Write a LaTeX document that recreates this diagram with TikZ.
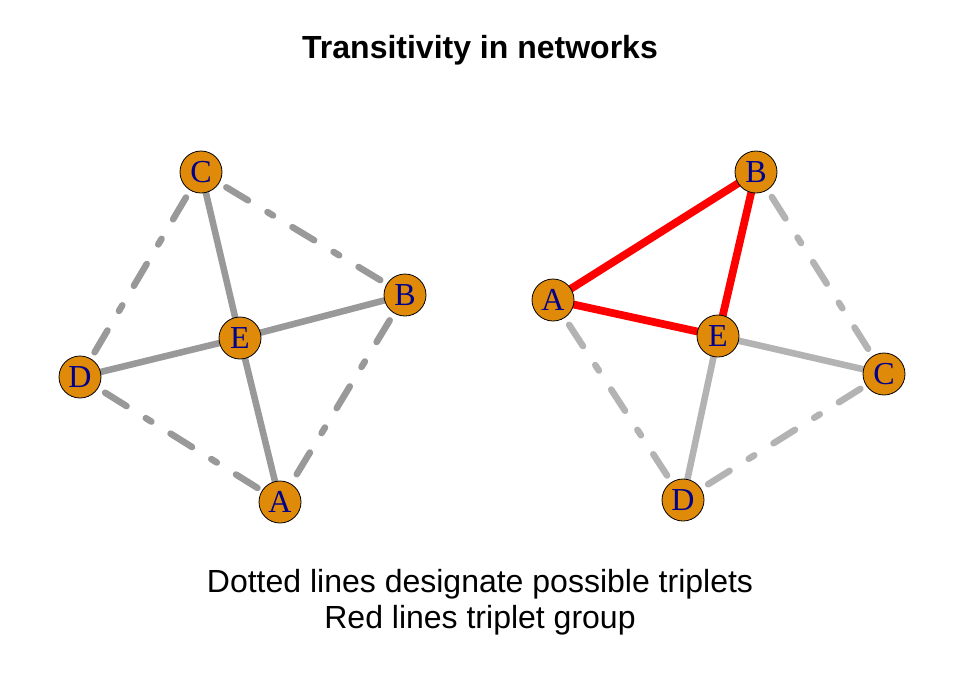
\documentclass[tikz,border=0pt]{standalone}
\usepackage{fontspec}
\setmainfont{Liberation Serif}
\newfontfamily\captionfont{Liberation Sans}
\usetikzlibrary{backgrounds}
\definecolor{vertexfill}{RGB}{224,138,10}
\definecolor{vertexlabel}{RGB}{0,0,139}
\definecolor{leftgray}{RGB}{153,153,153}
\definecolor{rightgray}{RGB}{179,179,179}
\tikzset{every picture/.style={line width=0.75pt}}

\begin{document}
\begin{tikzpicture}[x=0.75pt,y=0.75pt,yscale=-1,xscale=1,
  vertex/.style={circle, draw=black, line width=0.6pt, fill=vertexfill, text=vertexlabel,
    minimum size=31.5pt, inner sep=0pt, font=\fontsize{24}{24}\selectfont},
  tie/.style={line width=4.9pt, line cap=round},
  possible/.style={tie, dash pattern=on 4.9pt off 17pt on 19pt off 17pt, dash phase=15.75pt},
  triplet/.style={line width=5.8pt, line cap=round, color=red}]
%set diagram size 960 x 672
\useasboundingbox (0,0) rectangle (960,672);

% Text Node: title
\node[anchor=base, font=\captionfont\bfseries\fontsize{24}{24}\selectfont] (title) at (480,58) {Transitivity in networks};

%Left network
\node[vertex] (lC) at (201,172) {C};
\node[vertex] (lB) at (405,295) {B};
\node[vertex] (lE) at (240,338) {E};
\node[vertex] (lD) at (80,377) {D};
\node[vertex] (lA) at (280,502) {A};

%Right network
\node[vertex] (rB) at (756,172) {B};
\node[vertex] (rA) at (553,300) {A};
\node[vertex] (rE) at (718,336) {E};
\node[vertex] (rC) at (884,374) {C};
\node[vertex] (rD) at (683,500) {D};

\begin{pgfonlayer}{background}
\fill[white] (0,0) rectangle (960,672);
%Left edges
\draw[tie, leftgray] (lC) -- (lE);
\draw[tie, leftgray] (lD) -- (lE);
\draw[tie, leftgray] (lE) -- (lB);
\draw[tie, leftgray] (lE) -- (lA);
\draw[possible, leftgray] (lC) -- (lD);
\draw[possible, leftgray] (lC) -- (lB);
\draw[possible, leftgray] (lB) -- (lA);
\draw[possible, leftgray] (lD) -- (lA);
%Right edges
\draw[triplet] (rA) -- (rB);
\draw[triplet] (rB) -- (rE);
\draw[triplet] (rA) -- (rE);
\draw[tie, rightgray] (rE) -- (rC);
\draw[tie, rightgray] (rE) -- (rD);
\draw[possible, rightgray] (rB) -- (rC);
\draw[possible, rightgray] (rA) -- (rD);
\draw[possible, rightgray] (rD) -- (rC);
\end{pgfonlayer}

% Text Node: caption
\node[anchor=base, font=\captionfont\fontsize{24}{24}\selectfont] (caption1) at (480,592) {Dotted lines designate possible triplets};
\node[anchor=base, font=\captionfont\fontsize{24}{24}\selectfont] (caption2) at (480,628) {Red lines triplet group};

\end{tikzpicture}
\end{document}
